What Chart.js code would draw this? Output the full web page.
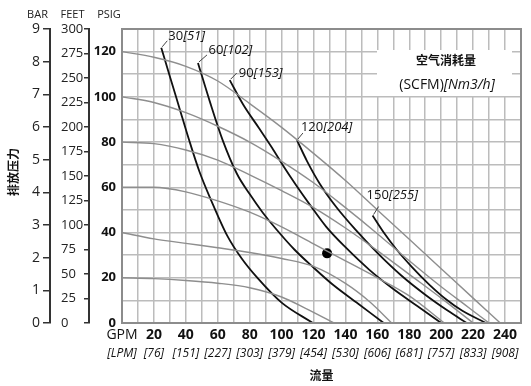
<!DOCTYPE html>
<html>
<head>
<meta charset="utf-8">
<script src="https://cdn.jsdelivr.net/npm/chart.js@4.4.1/dist/chart.umd.min.js"></script>
<style>
  body { margin: 0; background: #fff; }
  #wrap { width: 531px; height: 386px; }
</style>
</head>
<body>
<div id="wrap"><canvas id="pumpChart"></canvas></div>
<script>
// air inlet pressure curves  [GPM, PSIG]
const air20  = [[0,20],[20,19.6],[40,18.8],[60,17.6],[80,15.6],[100,11.5],[115,6.5],[133,0]];
const air40  = [[0,40],[20,37.2],[40,35.2],[60,33.3],[80,31.2],[100,28.5],[120,25],[140,17.5],[155,9.5],[169,0]];
const air60  = [[0,60],[20,60],[40,58],[60,54],[80,49],[100,42.5],[120,35],[140,27.5],[160,20],[180,12],[202,0]];
const air80  = [[0,80],[20,79.3],[40,76.5],[60,72],[80,65.5],[100,58.5],[120,51],[140,42],[160,32],[180,21.5],[200,11],[220,0]];
const air100 = [[0,100],[20,97.5],[40,93],[60,87],[80,80],[100,71.5],[120,62],[140,51],[160,39.5],[180,27.5],[200,16],[215,8],[230,0]];
const air120 = [[0,120],[20,117.5],[40,113.5],[60,107],[80,97],[100,86.5],[120,75],[140,63],[160,50],[180,37],[200,24],[220,11],[237,0]];

// air consumption curves  [GPM, PSIG]
const scfm30  = [[24.6,121.7],[30,109],[36,95],[42,81],[48.5,67],[56,54],[66,38.5],[75,28.5],[85,19.8],[100,9],[119.6,0]];
const scfm60  = [[47.6,115],[55,98],[63,81],[72,66],[80,57],[88,49],[96,42],[108,32.5],[120,24.5],[132,17],[148,8.5],[164,0]];
const scfm90  = [[67.5,107.4],[76,96.5],[86,86],[94,77.5],[101,69.5],[109,61],[118,52],[128,42.5],[140,33.5],[155,23.5],[170,15],[185,7.5],[200,0]];
const scfm120 = [[109.6,80.9],[116,71.5],[124,61.5],[134,51.5],[146,41.5],[160,31],[175,21],[190,12.5],[204,5.5],[216,0]];
const scfm150 = [[157,47.5],[164,40],[172,32.5],[182,24.5],[192.5,17],[203,10.5],[213,5.5],[228,0]];

const scfmValues = [30, 60, 90, 120, 150];
const nm3Values = [51, 102, 153, 204, 255];
const dutyPoint = [[128.5, 30.8]];

const gpmTicks = ['GPM','20','40','60','80','100','120','140','160','180','200','220','240'];
const lpmTicks = ['[LPM]','[76]','[151]','[227]','[303]','[379]','[454]','[530]','[606]','[681]','[757]','[833]','[908]'];

const FONT = "'Open Sans', 'Noto Sans CJK SC', sans-serif";
const airCurves = [air20, air40, air60, air80, air100, air120];
const scfmCurves = [scfm30, scfm60, scfm90, scfm120, scfm150];

// where each consumption label sits relative to the start of its curve
const labelOffsets = [
  {lx: 6, ly: -7, tx: 7, ty: -11},
  {lx: 9, ly: -8, tx: 10.5, ty: -12.5},
  {lx: 7, ly: -7, tx: 9, ty: -6.5},
  {lx: 6, ly: -7, tx: 4, ty: -12.5},
  {lx: 6, ly: -9, tx: -6, ty: -20}
];

const toPts = arr => arr.map(p => ({x: p[0], y: p[1]}));

const datasets = [];
airCurves.forEach(c => datasets.push({
  data: toPts(c), showLine: true, borderColor: '#8e8e8e', borderWidth: 1.4,
  pointRadius: 0, cubicInterpolationMode: 'monotone'
}));
scfmCurves.forEach(c => datasets.push({
  data: toPts(c), showLine: true, borderColor: '#111', borderWidth: 1.8,
  pointRadius: 0, cubicInterpolationMode: 'monotone'
}));
datasets.push({
  data: toPts(dutyPoint), showLine: false, pointRadius: 5,
  pointBackgroundColor: '#000', pointBorderWidth: 0
});

function pairText(ctx, x, y, a, b, size) {
  ctx.font = size + 'px ' + FONT;
  ctx.fillText(a, x, y);
  const w = ctx.measureText(a).width;
  ctx.font = 'italic ' + size + 'px ' + FONT;
  ctx.fillText(b, x + w, y);
}

const extras = {
  id: 'extras',
  beforeDatasetsDraw(chart) {
    const ctx = chart.ctx;
    ctx.save();
    ctx.fillStyle = '#fff';
    ctx.fillRect(377, 50, 135, 46);
    ctx.fillStyle = '#111';
    ctx.textBaseline = 'middle';
    ctx.textAlign = 'center';
    ctx.font = 'bold 12px ' + FONT;
    ctx.fillText('空气消耗量', 446, 62);
    ctx.textAlign = 'left';
    ctx.font = '14px ' + FONT;
    const a = '(SCFM)', b = '[Nm3/h]';
    const wa = ctx.measureText(a).width;
    ctx.font = 'italic 14px ' + FONT;
    const wb = ctx.measureText(b).width;
    pairText(ctx, 447 - (wa + wb) / 2, 85, a, b, 14);
    ctx.restore();
  },
  afterDatasetsDraw(chart) {
    const ctx = chart.ctx;
    const xs = chart.scales.x, ys = chart.scales.y;
    ctx.save();
    ctx.fillStyle = '#111';
    ctx.strokeStyle = '#444';
    ctx.lineWidth = 1;
    ctx.textBaseline = 'middle';
    ctx.textAlign = 'left';
    scfmCurves.forEach((c, i) => {
      const px = xs.getPixelForValue(c[0][0]);
      const py = ys.getPixelForValue(c[0][1]);
      const o = labelOffsets[i];
      ctx.beginPath();
      ctx.moveTo(px + 1, py - 1);
      ctx.lineTo(px + o.lx, py + o.ly);
      ctx.stroke();
      pairText(ctx, px + o.tx, py + o.ty, String(scfmValues[i]), '[' + nm3Values[i] + ']', 13);
    });
    // plot frame
    const a = chart.chartArea;
    ctx.strokeStyle = '#8c8c8c';
    ctx.lineWidth = 2;
    ctx.strokeRect(a.left, a.top, a.right - a.left, a.bottom - a.top);
    ctx.restore();
  },
  afterDraw(chart) {
    const ctx = chart.ctx;
    ctx.save();
    ctx.fillStyle = '#222';
    ctx.textBaseline = 'middle';
    ctx.textAlign = 'center';
    ctx.font = '11px ' + FONT;
    ctx.fillText('BAR', 37.5, 15);
    ctx.fillText('FEET', 72.5, 15);
    ctx.fillText('PSIG', 109, 15);
    ctx.translate(15, 172);
    ctx.rotate(-Math.PI / 2);
    ctx.fillStyle = '#111';
    ctx.font = 'bold 12px ' + FONT;
    ctx.fillText('排放压力', 0, 0);
    ctx.restore();
  }
};

new Chart(document.getElementById('pumpChart'), {
  type: 'scatter',
  data: { datasets: datasets },
  plugins: [extras],
  options: {
    responsive: true,
    maintainAspectRatio: false,
    animation: false,
    layout: { padding: { top: 29, right: 10, left: 0, bottom: 0 } },
    plugins: { legend: { display: false }, tooltip: { enabled: false } },
    scales: {
      x: {
        type: 'linear', position: 'bottom', weight: 0, min: 0, max: 250,
        afterFit: s => { s.height = 21; },
        ticks: {
          stepSize: 10, autoSkip: false, maxRotation: 0, padding: 4, color: '#111',
          font: ctx => ({ family: FONT, size: 14, weight: ctx.tick && ctx.tick.value === 0 ? 'normal' : 'bold' }),
          callback: v => (v % 20 === 0 && v / 20 < gpmTicks.length) ? gpmTicks[v / 20] : ''
        },
        grid: { color: '#bcbcbc', lineWidth: 1.5, drawTicks: false },
        border: { display: true, color: '#8c8c8c', width: 2 }
      },
      x2: {
        type: 'linear', position: 'bottom', weight: 1, min: 0, max: 250,
        afterFit: s => { s.height = 42; },
        ticks: {
          stepSize: 10, autoSkip: false, maxRotation: 0, padding: 2, color: '#111',
          font: { family: FONT, size: 12, style: 'italic' },
          callback: v => (v % 20 === 0 && v / 20 < lpmTicks.length) ? lpmTicks[v / 20] : ''
        },
        grid: { display: false, drawTicks: false },
        border: { display: false },
        title: { display: true, text: '流量', color: '#111', font: { family: FONT, size: 12, weight: 'bold' }, padding: { top: 0, bottom: 2 } }
      },
      y: {
        type: 'linear', position: 'left', weight: 0, min: 0, max: 130,
        afterFit: s => { s.width = 33; },
        ticks: {
          stepSize: 10, padding: 6, color: '#111',
          font: { family: FONT, size: 13, weight: 'bold' },
          callback: v => (v % 20 === 0 && v <= 120) ? String(v) : ''
        },
        grid: { color: '#bcbcbc', lineWidth: 1.5, drawTicks: false },
        border: { display: true, color: '#8c8c8c', width: 2 }
      },
      feet: {
        type: 'linear', position: 'left', weight: 1, min: 0, max: 300,
        afterFit: s => { s.width = 28; },
        ticks: { stepSize: 25, padding: 2, crossAlign: 'far', color: '#222', font: { family: FONT, size: 13 } },
        grid: { drawOnChartArea: false, drawTicks: true, tickLength: 5, color: '#333', lineWidth: 1.5 },
        border: { display: true, color: '#333', width: 2 }
      },
      gap: {
        type: 'linear', position: 'left', weight: 2, min: 0, max: 1,
        afterFit: s => { s.width = 11; },
        ticks: { display: false },
        grid: { display: false, drawTicks: false },
        border: { display: false }
      },
      bar: {
        type: 'linear', position: 'left', weight: 3, min: 0, max: 9,
        afterFit: s => { s.width = 50; },
        ticks: { stepSize: 1, padding: 3, color: '#222', font: { family: FONT, size: 14 } },
        grid: { drawOnChartArea: false, drawTicks: true, tickLength: 7, color: '#333', lineWidth: 1.5 },
        border: { display: true, color: '#333', width: 2 }
      }
    }
  }
});
</script>
</body>
</html>
